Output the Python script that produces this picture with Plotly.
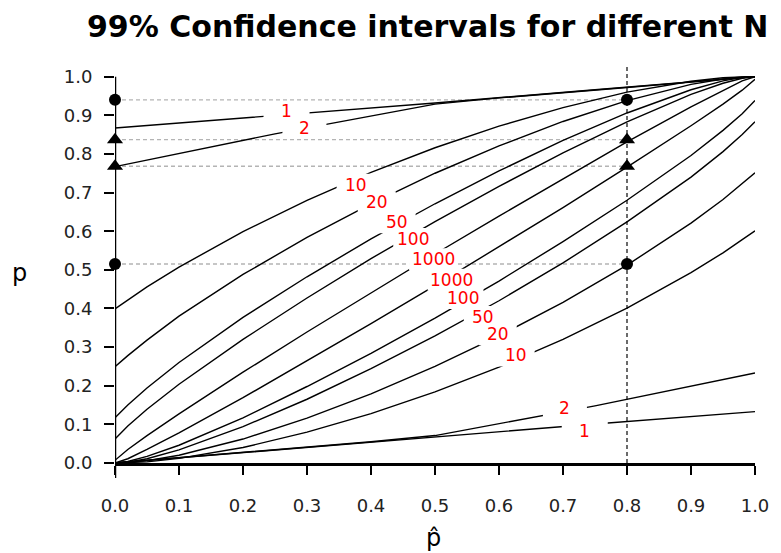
import plotly.graph_objects as go

# ---------------- data ----------------
N_LABELS = ["1", "2", "10", "20", "50", "100", "1000"]

# shared p-hat grid for the N >= 10 interval curves
P_HAT = [0.0, 0.02, 0.05, 0.1, 0.2, 0.3, 0.4, 0.5, 0.6, 0.7, 0.8, 0.9, 0.95, 0.98, 1.0]

UPPER_10 = [0.399, 0.422, 0.456, 0.507, 0.599, 0.680, 0.752, 0.816, 0.872, 0.920, 0.960, 0.988, 0.997, 0.999, 1.0]
UPPER_20 = [0.249, 0.278, 0.318, 0.380, 0.488, 0.584, 0.671, 0.750, 0.821, 0.884, 0.938, 0.980, 0.994, 0.999, 1.0]
UPPER_50 = [0.117, 0.150, 0.194, 0.260, 0.377, 0.482, 0.580, 0.671, 0.756, 0.835, 0.906, 0.966, 0.989, 0.998, 1.0]
UPPER_100 = [0.062, 0.096, 0.139, 0.204, 0.320, 0.427, 0.529, 0.625, 0.716, 0.803, 0.883, 0.954, 0.983, 0.996, 1.0]
UPPER_1000 = [0.007, 0.035, 0.071, 0.127, 0.235, 0.339, 0.440, 0.541, 0.639, 0.736, 0.831, 0.922, 0.965, 0.989, 1.0]

LOWER_10 = [0.0, 0.001, 0.003, 0.012, 0.040, 0.080, 0.128, 0.184, 0.248, 0.320, 0.401, 0.493, 0.544, 0.578, 0.601]
LOWER_20 = [0.0, 0.001, 0.006, 0.020, 0.062, 0.116, 0.179, 0.250, 0.329, 0.416, 0.512, 0.621, 0.682, 0.722, 0.751]
LOWER_50 = [0.0, 0.002, 0.011, 0.034, 0.094, 0.165, 0.244, 0.329, 0.420, 0.518, 0.624, 0.740, 0.806, 0.850, 0.883]
LOWER_100 = [0.0, 0.004, 0.017, 0.046, 0.117, 0.198, 0.284, 0.375, 0.471, 0.573, 0.680, 0.796, 0.861, 0.904, 0.938]
LOWER_1000 = [0.0, 0.011, 0.035, 0.078, 0.169, 0.264, 0.361, 0.459, 0.560, 0.661, 0.766, 0.873, 0.929, 0.965, 0.993]

# small-N curves (coarse, nearly straight in the picture)
P_HAT_N1 = [0.0, 0.25, 0.5, 0.75, 1.0]
UPPER_1 = [0.867, 0.899, 0.932, 0.966, 1.0]
LOWER_1 = [0.0, 0.034, 0.068, 0.101, 0.133]

P_HAT_N2_UP = [0.0, 0.25, 0.5, 0.6, 0.8, 1.0]
UPPER_2 = [0.767, 0.852, 0.929, 0.945, 0.972, 1.0]
P_HAT_N2_LO = [0.0, 0.2, 0.4, 0.5, 0.75, 1.0]
LOWER_2 = [0.0, 0.028, 0.055, 0.071, 0.148, 0.233]

# example intervals marked at p-hat = 0 and p-hat = 0.8
MARK_P_HAT = [0.0, 0.8]
CIRCLE_P = [0.940, 0.515]
TRIANGLE_P = [0.837, 0.768]

X_TICKS = [0.0, 0.1, 0.2, 0.3, 0.4, 0.5, 0.6, 0.7, 0.8, 0.9, 1.0]
Y_TICKS = [0.0, 0.1, 0.2, 0.3, 0.4, 0.5, 0.6, 0.7, 0.8, 0.9, 1.0]
TICK_TEXT = ["0.0", "0.1", "0.2", "0.3", "0.4", "0.5", "0.6", "0.7", "0.8", "0.9", "1.0"]

# ---------------- curve table ----------------
curves = [
    (P_HAT_N1, UPPER_1), (P_HAT_N2_UP, UPPER_2),
    (P_HAT, UPPER_10), (P_HAT, UPPER_20), (P_HAT, UPPER_50), (P_HAT, UPPER_100), (P_HAT, UPPER_1000),
    (P_HAT, LOWER_1000), (P_HAT, LOWER_100), (P_HAT, LOWER_50), (P_HAT, LOWER_20), (P_HAT, LOWER_10),
    (P_HAT_N2_LO, LOWER_2), (P_HAT_N1, LOWER_1),
]

# label placement (layout): (text, x, y, gap width px, gap height px)
label_places = [
    ("1", 0.268, 0.910, 46, 19), ("2", 0.296, 0.866, 44, 19),
    ("10", 0.376, 0.720, 38, 22), ("20", 0.409, 0.675, 38, 22), ("50", 0.440, 0.623, 38, 22),
    ("100", 0.466, 0.580, 40, 22), ("1000", 0.497, 0.5275, 48, 22),
    ("1000", 0.526, 0.474, 48, 22), ("100", 0.5445, 0.427, 40, 22), ("50", 0.5747, 0.378, 38, 22),
    ("20", 0.598, 0.333, 38, 22), ("10", 0.626, 0.2785, 38, 22),
    ("2", 0.703, 0.142, 44, 19), ("1", 0.734, 0.083, 46, 19),
]

FONT = "DejaVu Sans"
Y_TOP = 1.025

fig = go.Figure()

# dashed guide lines
for p in CIRCLE_P + TRIANGLE_P:
    fig.add_trace(go.Scatter(x=[MARK_P_HAT[0], MARK_P_HAT[1]], y=[p, p], mode="lines",
                             line=dict(color="#b4b4b4", width=1.4, dash="4px,3px"),
                             hoverinfo="skip", showlegend=False))
fig.add_trace(go.Scatter(x=[MARK_P_HAT[1], MARK_P_HAT[1]], y=[0, Y_TOP], mode="lines",
                         line=dict(color="#3a3a3a", width=1.5, dash="4px,3px"),
                         hoverinfo="skip", showlegend=False, cliponaxis=False))

# interval curves
for xs, ys in curves:
    fig.add_trace(go.Scatter(x=xs, y=ys, mode="lines",
                             line=dict(color="black", width=1.4),
                             hoverinfo="skip", showlegend=False))

# markers
for p in CIRCLE_P:
    fig.add_trace(go.Scatter(x=MARK_P_HAT, y=[p, p], mode="markers",
                             marker=dict(symbol="circle", size=12, color="black"),
                             cliponaxis=False, showlegend=False, hoverinfo="skip"))
for p in TRIANGLE_P:
    fig.add_trace(go.Scatter(x=MARK_P_HAT, y=[p, p], mode="markers",
                             marker=dict(symbol="triangle-up", size=14, color="black"),
                             cliponaxis=False, showlegend=False, hoverinfo="skip"))

shapes = []
annotations = []
for text, lx, ly, w, h in label_places:
    # white gap cut into the contour line behind each label
    shapes.append(dict(type="rect", xref="x", yref="y", xsizemode="pixel", ysizemode="pixel",
                       xanchor=lx, yanchor=ly, x0=-w / 2, x1=w / 2, y0=-h / 2, y1=h / 2,
                       fillcolor="white", line=dict(width=0), layer="above"))
    annotations.append(dict(x=lx, y=ly, xref="x", yref="y", text=text, showarrow=False,
                            font=dict(family=FONT, size=17, color="#ff0000"),
                            xanchor="center", yanchor="middle", borderpad=0))

annotations.append(dict(x=0.489, y=1.103, xref="paper", yref="paper",
                        text="<b>99% Confidence intervals for different N</b>", showarrow=False,
                        font=dict(family=FONT, size=30, color="black"),
                        xanchor="center", yanchor="middle"))
annotations.append(dict(x=-0.150, y=0.479, xref="paper", yref="paper", text="p", showarrow=False,
                        font=dict(family=FONT, size=24, color="black"),
                        xanchor="center", yanchor="middle"))
annotations.append(dict(x=0.498, y=-0.19, xref="paper", yref="paper", text="p\u0302", showarrow=False,
                        font=dict(family=FONT, size=24, color="black"),
                        xanchor="center", yanchor="middle"))

shapes += [
    dict(type="line", xref="x", yref="y", x0=0, x1=0, y0=0, y1=1.0,
         line=dict(color="black", width=2.5), layer="above"),
    dict(type="line", xref="x", yref="paper", x0=0, x1=0, y0=-0.038, y1=0,
         line=dict(color="black", width=2.5), layer="above"),
]

fig.update_layout(
    width=781, height=553,
    margin=dict(l=114.7, r=19.3, t=66.7, b=90.3),
    paper_bgcolor="white", plot_bgcolor="white",
    font=dict(family=FONT, size=18, color="black"),
    showlegend=False,
    annotations=annotations,
    shapes=shapes,
    xaxis=dict(range=[0, 1.0], tickvals=X_TICKS, ticktext=TICK_TEXT,
               ticks="outside", ticklen=9, tickwidth=2, tickcolor="black",
               showline=True, linewidth=2.5, linecolor="black",
               showgrid=False, zeroline=False, ticklabelstandoff=16,
               tickfont=dict(family=FONT, size=18, color="#222222")),
    yaxis=dict(range=[0, Y_TOP], tickvals=Y_TICKS, ticktext=TICK_TEXT,
               ticks="outside", ticklen=10, tickwidth=2, tickcolor="black",
               showline=False, showgrid=False, zeroline=False, ticklabelstandoff=8,
               tickfont=dict(family=FONT, size=18, color="#222222")),
)

fig.write_html("out.html")
